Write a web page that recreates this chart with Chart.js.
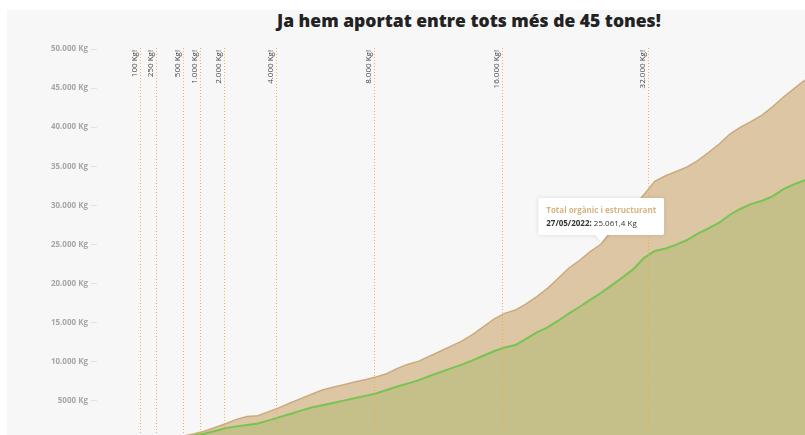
<!DOCTYPE html>
<html>
<head>
  <title>Aportacions compost</title>
  <script src="https://cdn.jsdelivr.net/npm/chart.js"></script>
  <style>
    html, body { margin: 0; padding: 0; background: #fff; overflow: hidden; width: 805px; height: 435px; }
    #panel { position: absolute; left: 7px; top: 10px; width: 798px; height: 425px; background: #f7f7f7; }
    #titol { position: absolute; left: 277px; top: 8px; font: 800 17.5px "Open Sans", sans-serif; color: #222; white-space: nowrap; }
    #grafic { position: absolute; left: 0; top: 0; }
  </style>
</head>
<body>
  <div id="panel"></div>
  <div id="titol">Ja hem aportat entre tots més de 45 tones!</div>
  <canvas id="grafic" width="805" height="470"></canvas>

  <script>
    const dates = [
      '07/08/2020', '21/08/2020', '04/09/2020', '18/09/2020', '02/10/2020', '16/10/2020', '30/10/2020',
      '13/11/2020', '27/11/2020', '11/12/2020', '25/12/2020', '08/01/2021', '22/01/2021', '05/02/2021',
      '19/02/2021', '05/03/2021', '19/03/2021', '02/04/2021', '16/04/2021', '30/04/2021', '14/05/2021',
      '28/05/2021', '11/06/2021', '25/06/2021', '09/07/2021', '23/07/2021', '06/08/2021', '20/08/2021',
      '03/09/2021', '17/09/2021', '01/10/2021', '15/10/2021', '29/10/2021', '12/11/2021', '26/11/2021',
      '10/12/2021', '24/12/2021', '07/01/2022', '21/01/2022', '04/02/2022', '18/02/2022', '04/03/2022',
      '18/03/2022', '01/04/2022', '15/04/2022', '29/04/2022', '13/05/2022', '27/05/2022', '10/06/2022',
      '24/06/2022', '08/07/2022', '22/07/2022', '05/08/2022', '19/08/2022', '02/09/2022', '16/09/2022',
      '30/09/2022', '14/10/2022', '28/10/2022', '11/11/2022', '25/11/2022', '09/12/2022', '23/12/2022',
      '06/01/2023', '20/01/2023', '03/02/2023', '17/02/2023'
    ];

    // total orgànic + estructurant (Kg acumulats)
    const total = [
      0, 20, 45, 70, 95, 200, 310, 400, 490, 780, 1130, 1600, 2080, 2641,
      3000, 3115, 3628, 4141, 4731, 5295, 5846, 6384, 6743, 7077, 7410, 7718,
      8051, 8474, 9166, 9679, 10089, 10705, 11346, 12000, 12641, 13474, 14461,
      15448, 16192, 16615, 17410, 18333, 19384, 20692, 22000, 22987, 24114,
      25061.4, 26806, 28217, 29755, 31400, 33088, 33793, 34332, 34909, 35729,
      36742, 37845, 39127, 40011, 40755, 41550, 42626, 43857, 44960, 46036
    ];

    // només orgànic (Kg acumulats)
    const organic = [
      0, 14, 32, 50, 68, 144, 223, 288, 353, 560, 810, 1150, 1520, 1743,
      1910, 2102, 2513, 2923, 3333, 3756, 4154, 4449, 4743, 5038, 5333, 5641,
      5949, 6384, 6833, 7243, 7654, 8179, 8679, 9166, 9640, 10179, 10769,
      11346, 11820, 12141, 12923, 13769, 14397, 15256, 16205, 17038, 17948,
      18833, 19807, 20807, 21845, 23294, 24166, 24499, 24986, 25576, 26384,
      27063, 27781, 28807, 29576, 30191, 30602, 31191, 32088, 32704, 33217
    ];

    const yTicks = [5000, 10000, 15000, 20000, 25000, 30000, 35000, 40000, 45000, 50000];

    const fites = [100, 250, 500, 1000, 2000, 4000, 8000, 16000, 32000];
    const fitesLabels = ['100 Kg!', '250 Kg!', '500 Kg!', '1.000 Kg!', '2.000 Kg!', '4.000 Kg!', '8.000 Kg!', '16.000 Kg!', '32.000 Kg!'];

    const tooltipIndex = 47;

    function milers(n) {
      return String(n).replace(/\B(?=(\d{3})+(?!\d))/g, '.');
    }
    function kg(v) {
      const parts = String(v).split('.');
      return milers(parts[0]) + (parts[1] ? ',' + parts[1] : '');
    }

    // linies verticals de les fites
    const fitesPlugin = {
      id: 'fites',
      afterDatasetsDraw(chart) {
        const ctx = chart.ctx;
        const xs = chart.scales.x;
        const area = chart.chartArea;
        ctx.save();
        fites.forEach((f, k) => {
          let idx = null;
          for (let i = 1; i < total.length; i++) {
            if (total[i] >= f) {
              idx = i - 1 + (f - total[i - 1]) / (total[i] - total[i - 1]);
              break;
            }
          }
          if (idx === null) return;
          const x = Math.round(xs.getPixelForValue(idx)) + 0.5;
          ctx.strokeStyle = 'rgba(244,168,60,0.85)';
          ctx.lineWidth = 1;
          ctx.setLineDash([1, 2]);
          ctx.beginPath();
          ctx.moveTo(x, area.top - 1);
          ctx.lineTo(x, area.bottom);
          ctx.stroke();

          ctx.save();
          ctx.translate(x - 2, area.top + 1);
          ctx.rotate(-Math.PI / 2);
          ctx.fillStyle = '#444';
          ctx.font = '8px "Open Sans", sans-serif';
          ctx.textAlign = 'right';
          ctx.textBaseline = 'bottom';
          ctx.fillText(fitesLabels[k], 0, 0);
          ctx.restore();
        });
        ctx.restore();
      },
      afterDraw(chart) {
        // tooltip fix sobre el punt de 27/05/2022
        const ctx = chart.ctx;
        const pt = chart.getDatasetMeta(1).data[tooltipIndex];
        const titol = 'Total orgànic i estructurant';
        const dataTxt = dates[tooltipIndex] + ':';
        const valTxt = ' ' + kg(total[tooltipIndex]) + ' Kg';
        ctx.save();
        ctx.font = 'bold 8px "Open Sans", sans-serif';
        const wT = ctx.measureText(titol).width;
        const wD = ctx.measureText(dataTxt).width;
        ctx.font = '8px "Open Sans", sans-serif';
        const wV = ctx.measureText(valTxt).width;
        const w = Math.max(wT, wD + wV) + 16;
        const h = 37;
        const left = pt.x - w / 2;
        const top = pt.y - 9 - h;

        ctx.shadowColor = 'rgba(0,0,0,0.12)';
        ctx.shadowBlur = 4;
        ctx.fillStyle = '#fff';
        ctx.beginPath();
        ctx.moveTo(left + 2, top);
        ctx.lineTo(left + w - 2, top);
        ctx.quadraticCurveTo(left + w, top, left + w, top + 2);
        ctx.lineTo(left + w, top + h - 2);
        ctx.quadraticCurveTo(left + w, top + h, left + w - 2, top + h);
        ctx.lineTo(pt.x + 6, top + h);
        ctx.lineTo(pt.x, top + h + 7);
        ctx.lineTo(pt.x - 6, top + h);
        ctx.lineTo(left + 2, top + h);
        ctx.quadraticCurveTo(left, top + h, left, top + h - 2);
        ctx.lineTo(left, top + 2);
        ctx.quadraticCurveTo(left, top, left + 2, top);
        ctx.closePath();
        ctx.fill();
        ctx.shadowBlur = 0;
        ctx.shadowColor = 'transparent';

        ctx.textBaseline = 'middle';
        ctx.textAlign = 'left';
        ctx.font = 'bold 8px "Open Sans", sans-serif';
        ctx.fillStyle = 'rgb(214,180,128)';
        ctx.fillText(titol, left + 8, top + 13);
        ctx.fillStyle = '#333';
        ctx.fillText(dataTxt, left + 8, top + 26);
        ctx.font = '8px "Open Sans", sans-serif';
        ctx.fillText(valTxt, left + 8 + wD, top + 26);
        ctx.restore();
      }
    };

    const ctx = document.getElementById('grafic').getContext('2d');
    new Chart(ctx, {
      type: 'line',
      data: {
        labels: dates,
        datasets: [{
          label: 'Orgànic',
          data: organic,
          borderColor: 'rgb(118,196,82)',
          borderWidth: 2,
          backgroundColor: 'rgb(197,191,137)',
          fill: 'origin',
          pointRadius: 0,
          tension: 0
        }, {
          label: 'Total orgànic i estructurant',
          data: total,
          borderColor: 'rgb(204,170,125)',
          borderWidth: 1.5,
          backgroundColor: 'rgb(221,198,164)',
          fill: 'origin',
          pointRadius: 0,
          tension: 0
        }]
      },
      options: {
        responsive: false,
        animation: false,
        // el zero de l'eix queda per sota de la vista (y = 440)
        layout: { padding: { top: 49, bottom: 30, left: 0, right: 0 } },
        plugins: {
          legend: { display: false },
          tooltip: { enabled: false }
        },
        scales: {
          x: {
            display: false
          },
          y: {
            min: 0,
            max: 50000,
            border: { display: false },
            grid: { drawOnChartArea: false, tickLength: 6, color: '#e2e2e2' },
            afterBuildTicks: s => { s.ticks = yTicks.map(v => ({ value: v })); },
            ticks: {
              padding: 3,
              color: '#a6a6a6',
              font: { family: '"Open Sans", sans-serif', size: 8, weight: 'bold' },
              callback: v => (v < 10000 ? v : milers(v)) + ' Kg'
            },
            afterFit: s => { s.width = 97; }
          }
        }
      },
      plugins: [fitesPlugin]
    });
  </script>
</body>
</html>
